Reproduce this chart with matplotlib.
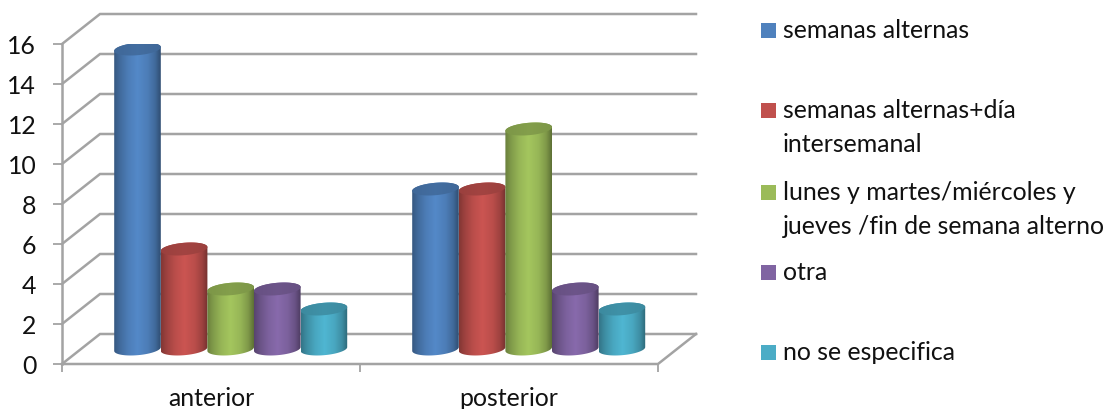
import numpy as np
import matplotlib
matplotlib.use("Agg")
import matplotlib.pyplot as plt
from matplotlib.colors import LinearSegmentedColormap, to_rgb
from matplotlib.patches import Polygon, Rectangle

categories = ["anterior", "posterior"]
series_names = ["semanas alternas", "semanas alternas+día\nintersemanal",
                "lunes y martes/miércoles y\njueves /fin de semana alterno",
                "otra", "no se especifica"]
semanas_alternas = [15, 8]
semanas_dia = [5, 8]
lunes_martes = [3, 11]
otra = [3, 3]
no_especifica = [2, 2]
series = [semanas_alternas, semanas_dia, lunes_martes, otra, no_especifica]
colors = ["#4F81BD", "#C0504D", "#9BBB59", "#8064A2", "#4BACC6"]
yticks = list(range(0, 17, 2))

W, H = 1107, 410
plt.rcParams['font.family'] = ['Lato', 'DejaVu Sans']
GRID = "#A3A3A3"
TXT = "#111111"
FS = 17.9

fig = plt.figure(figsize=(W / 100, H / 100), dpi=100)
L, R, B, T = 62, 658, 365, 45
ax = fig.add_axes([L / W, (H - B) / H, (R - L) / W, (B - T) / H])
ax.set_xlim(0, len(categories))
ax.set_ylim(0, 16)
for s in ax.spines.values():
    s.set_visible(False)

px = len(categories) / (R - L)      # data x per pixel
py = 16 / (B - T)                   # data y per pixel
dx, dy = 38 * px, 30 * py           # depth of the 3D box

lw = 1.8
for v in yticks:
    ax.plot([0, dx, len(categories) + dx], [v, v + dy, v + dy], color=GRID, lw=lw,
            clip_on=False, zorder=1, solid_joinstyle="miter")
ax.plot([0, 0], [0, 16], color=GRID, lw=lw, clip_on=False, zorder=1)
ax.plot([0, len(categories), len(categories) + dx], [0, 0, dy], color=GRID, lw=lw,
        clip_on=False, zorder=1, solid_joinstyle="miter")

ax.set_yticks(yticks)
ax.set_yticklabels([str(v) for v in yticks], fontsize=FS, color=TXT)
ax.set_xticks(range(len(categories) + 1))
ax.set_xticklabels([])
ax.set_xticks([i + 0.5 for i in range(len(categories))], labels=categories, minor=True)
ax.tick_params(axis="y", length=6.5, width=1.3, color=GRID, pad=12)
ax.tick_params(axis="x", which="major", length=6, width=1.3, color=GRID)
ax.tick_params(axis="x", which="minor", length=0, pad=15.5, labelsize=FS, labelcolor=TXT)

n = len(series)
bw = 46.6 * px
a = bw / 2
b = 6.2 * py
slope = 1.9 * py / a      # tilt of the ellipses
x_shift = 0.7 * px

def ramp(c, k=1.0):
    c = np.array(to_rgb(c))
    st = [(0, .68), (.12, .82), (.3, .97), (.5, 1.06), (.72, .97), (.88, .82), (1, .6)]
    return LinearSegmentedColormap.from_list("g", [(p, np.clip(c * f * k, 0, 1)) for p, f in st])

t_low = np.linspace(np.pi, 2 * np.pi, 60)
t_up = np.linspace(0, np.pi, 60)
t_all = np.linspace(0, 2 * np.pi, 120)
def ell(cx, cy, t):
    return np.c_[cx + a * np.cos(t), cy + b * np.sin(t) + slope * a * np.cos(t)]

grad = np.linspace(0, 1, 128).reshape(1, -1)
for ci in range(len(categories)):
    for si, vals in enumerate(series):
        v = vals[ci]
        cx = ci + 0.5 + dx / 2 + x_shift + (si - (n - 1) / 2) * bw
        cy0 = dy / 2
        z = 3 + si * 0.1
        ext = (cx - a, cx + a, cy0 - 1, cy0 + v + 1)
        body = Polygon(np.r_[ell(cx, cy0, t_low), ell(cx, cy0 + v, t_up)],
                       closed=True, transform=ax.transData, fc="none", ec="none")
        ax.add_patch(body)
        im = ax.imshow(grad, cmap=ramp(colors[si]), extent=ext, aspect="auto", zorder=z,
                       interpolation="bilinear")
        im.set_clip_path(body)
        top = Polygon(ell(cx, cy0 + v, t_all), closed=True, transform=ax.transData,
                      fc="none", ec="none")
        ax.add_patch(top)
        im2 = ax.imshow(grad, cmap=ramp(colors[si], 0.8), extent=ext, aspect="auto", zorder=z + 0.01,
                        interpolation="bilinear", vmin=-1.5, vmax=2.5)
        im2.set_clip_path(top)
ax.set_xlim(0, len(categories))
ax.set_ylim(0, 16)

# legend
leg_y = [31, 111, 193, 273, 353]
line_gap = 34
for name, c, y in zip(series_names, colors, leg_y):
    fig.add_artist(Rectangle((761 / W, 1 - (y + 7.5) / H), 15 / W, 15 / H,
                             transform=fig.transFigure, fc=c, ec="none"))
    for j, line in enumerate(name.split("\n")):
        fig.text(783 / W, 1 - (y + j * line_gap) / H, line, fontsize=FS, color=TXT,
                 va="center", ha="left")

fig.savefig("out.png", dpi=100)
